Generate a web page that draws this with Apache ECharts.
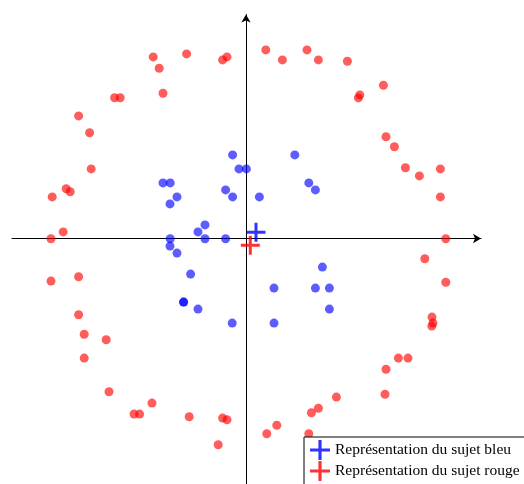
<!DOCTYPE html>
<html>
<head>
<meta charset="utf-8">
<script src="https://cdn.jsdelivr.net/npm/echarts@6/dist/echarts.min.js"></script>
<style>html,body{margin:0;padding:0;background:#fff}#c{width:524px;height:484px}</style>
</head>
<body>
<div id="c"></div>
<script>
// Red subject points [x, y]
const redPoints = [
  [-0.464, 0.908], [-0.297, 0.923], [-0.117, 0.893], [-0.095, 0.908], [-0.434, 0.851],
  [-0.657, 0.704], [-0.629, 0.704], [-0.415, 0.726], [-0.837, 0.613], [-0.782, 0.529],
  [-0.774, 0.348], [-0.899, 0.249], [-0.879, 0.234], [-0.969, 0.208], [-0.914, 0.033],
  [-0.975, -0.001], [0.099, 0.943], [0.182, 0.893], [0.305, 0.943], [0.362, 0.893],
  [0.507, 0.886], [0.687, 0.766], [0.569, 0.718], [0.562, 0.703], [0.700, 0.509],
  [0.742, 0.459], [0.797, 0.354], [0.867, 0.313], [0.972, 0.348], [0.972, 0.208],
  [0.999, -0.001], [-0.975, -0.213], [-0.837, -0.191], [-0.837, -0.381], [-0.809, -0.479],
  [-0.699, -0.506], [-0.809, -0.598], [-0.685, -0.766], [-0.470, -0.823], [-0.560, -0.878],
  [-0.532, -0.878], [-0.284, -0.891], [-0.117, -0.898], [-0.095, -0.906], [-0.139, -1.031],
  [0.894, -0.101], [0.999, -0.219], [0.930, -0.393], [0.935, -0.423], [0.929, -0.438],
  [0.762, -0.598], [0.810, -0.598], [0.700, -0.654], [0.695, -0.779], [0.452, -0.793],
  [0.327, -0.871], [0.362, -0.849], [0.154, -0.934], [0.104, -0.976], [0.314, -0.976]
];
// Blue subject points [x, y]
const bluePoints = [
  [-0.067, 0.418], [-0.035, 0.348], [0.002, 0.348], [-0.415, 0.278], [-0.379, 0.278],
  [-0.102, 0.243], [-0.067, 0.208], [-0.345, 0.208], [-0.380, 0.173], [0.067, 0.208],
  [-0.205, 0.068], [-0.240, 0.033], [-0.379, -0.001], [-0.205, -0.001], [-0.102, -0.001],
  [0.244, 0.418], [0.314, 0.278], [0.347, 0.243], [-0.380, -0.038], [-0.345, -0.073],
  [-0.277, -0.178], [-0.312, -0.318], [-0.312, -0.318], [-0.240, -0.353], [-0.069, -0.423],
  [0.382, -0.143], [0.140, -0.248], [0.347, -0.248], [0.417, -0.248], [0.417, -0.353],
  [0.140, -0.423]
];
// Representations (crosses)
const blueRepresentation = [[0.050, 0.031]];
const redRepresentation = [[0.0215, -0.034]];
const legendNames = ['Représentation du sujet bleu', 'Représentation du sujet rouge'];

const plusPath = 'path://M0,8h19v3h-19z M8,0h3v19h-3z';
const chart = echarts.init(document.getElementById('c'), null, {renderer: 'canvas'});
const axisCommon = {
  type: 'value',
  axisLine: {onZero: true, symbol: ['none', 'arrow'], symbolSize: [7, 8],
    lineStyle: {color: '#000', width: 1}},
  axisTick: {show: false},
  axisLabel: {show: false},
  splitLine: {show: false}
};
chart.setOption({
  animation: false,
  backgroundColor: '#fff',
  grid: {left: 12, right: 43, top: 14.5, bottom: 0},
  xAxis: Object.assign({}, axisCommon, {min: -1.17, max: 1.175}),
  yAxis: Object.assign({}, axisCommon, {min: -1.2275, max: 1.12}),
  legend: {
    data: legendNames,
    orient: 'vertical',
    left: 304, top: 437, width: 240, height: 60,
    padding: [3, 12, 6, 6],
    itemGap: 1, itemWidth: 20, itemHeight: 20,
    icon: plusPath,
    backgroundColor: '#fff',
    borderColor: '#000', borderWidth: 1, borderRadius: 0,
    textStyle: {fontFamily: 'Liberation Serif', fontSize: 15.5, color: '#000'}
  },
  series: [
    {type: 'scatter', data: redPoints, symbolSize: 9,
      itemStyle: {color: 'rgba(255,0,0,0.8)'}},
    {type: 'scatter', data: bluePoints, symbolSize: 9,
      itemStyle: {color: 'rgba(0,0,255,0.8)'}},
    {name: legendNames[0], type: 'scatter', data: blueRepresentation, symbol: plusPath,
      symbolSize: 19, itemStyle: {color: '#0000ff'}, z: 5},
    {name: legendNames[1], type: 'scatter', data: redRepresentation, symbol: plusPath,
      symbolSize: 19, itemStyle: {color: '#ff0000'}, z: 5}
  ]
});
</script>
</body>
</html>
